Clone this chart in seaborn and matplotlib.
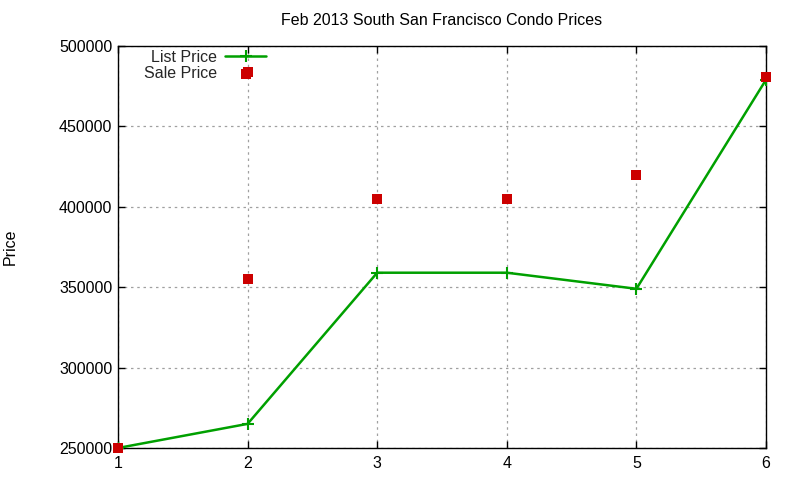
import matplotlib
matplotlib.use("Agg")
import matplotlib.pyplot as plt
import seaborn as sns
import pandas as pd

# data
unit = [1, 2, 3, 4, 5, 6]
list_price = [250000, 265000, 359000, 359000, 349000, 479000]
sale_unit = [1, 2, 2, 3, 4, 5, 6]
sale_price = [250000, 355000, 484000, 405000, 405000, 420000, 481000]
y_ticks = [250000, 300000, 350000, 400000, 450000, 500000]

sns.set_theme(style="white")
plt.rcParams["font.family"] = ["Liberation Sans", "DejaVu Sans"]

list_df = pd.DataFrame({"unit": unit, "price": list_price})
sale_df = pd.DataFrame({"unit": sale_unit, "price": sale_price})

fig = plt.figure(figsize=(8, 4.8), dpi=100)
ax = fig.add_axes([0.1475, 0.0667, 0.81, 0.8375])

sns.lineplot(data=list_df, x="unit", y="price", ax=ax, color="#00a000",
             linewidth=1.8, marker="+", markersize=8, markeredgewidth=1.5,
             markeredgecolor="#00a000", label="List Price", zorder=3)
sns.scatterplot(data=sale_df, x="unit", y="price", ax=ax, color="#cc0000",
                marker="s", s=45, linewidth=0, label="Sale Price", zorder=4,
                clip_on=False)

ax.set_xlim(1, 6)
ax.set_ylim(250000, 500000)
ax.set_xticks(unit)
ax.set_yticks(y_ticks)
ax.set_xticklabels([str(u) for u in unit])
ax.set_yticklabels([str(t) for t in y_ticks])
ax.grid(True, color="#a0a0a0", linestyle=(0, (2, 3)), linewidth=0.9)
ax.tick_params(direction="in", length=5, width=1, color="black",
               top=True, right=True, bottom=True, left=True,
               labelsize=11.5, labelcolor="black", pad=4)
ax.tick_params(axis="x", pad=6)
for s in ax.spines.values():
    s.set_visible(True)
    s.set_color("black")
    s.set_linewidth(1)
ax.set_xlabel("")
ax.set_ylabel("Price", fontsize=11.5, color="black", labelpad=30)
ax.set_title("Feb 2013 South San Francisco Condo Prices", fontsize=11.5,
             color="black", pad=15)

ax.legend(loc="upper left", bbox_to_anchor=(0.025, 1.015), frameon=False,
          markerfirst=False, fontsize=11.5, handlelength=2.6,
          handletextpad=0.5, labelspacing=0.1, borderaxespad=0.2)

fig.savefig("out.png", dpi=100)
